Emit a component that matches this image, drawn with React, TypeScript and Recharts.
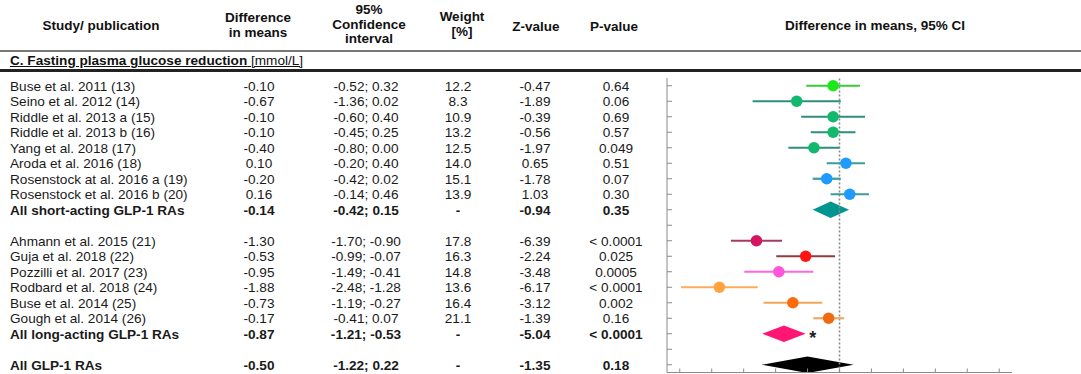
import {
  ScatterChart,
  Scatter,
  XAxis,
  YAxis,
  ErrorBar,
  ReferenceLine,
  ReferenceArea,
} from 'recharts';

// individual trials
const studyNames = [
  'Buse et al. 2011 (13)',
  'Seino et al. 2012 (14)',
  'Riddle et al. 2013 a (15)',
  'Riddle et al. 2013 b (16)',
  'Yang et al. 2018 (17)',
  'Aroda et al. 2016 (18)',
  'Rosenstock at al. 2016 a (19)',
  'Rosenstock et al. 2016 b (20)',
  'Ahmann et al. 2015 (21)',
  'Guja et al. 2018 (22)',
  'Pozzilli et al. 2017 (23)',
  'Rodbard et al. 2018 (24)',
  'Buse et al. 2014 (25)',
  'Gough et al. 2014 (26)',
];
const studyDiff = [-0.1, -0.67, -0.1, -0.1, -0.4, 0.1, -0.2, 0.16, -1.3, -0.53, -0.95, -1.88, -0.73, -0.17];
const studyLow = [-0.52, -1.36, -0.6, -0.45, -0.8, -0.2, -0.42, -0.14, -1.7, -0.99, -1.49, -2.48, -1.19, -0.41];
const studyHigh = [0.32, 0.02, 0.4, 0.25, 0.0, 0.4, 0.02, 0.46, -0.9, -0.07, -0.41, -1.28, -0.27, 0.07];
const studyWeight = [12.2, 8.3, 10.9, 13.2, 12.5, 14.0, 15.1, 13.9, 17.8, 16.3, 14.8, 13.6, 16.4, 21.1];
const studyZ = [-0.47, -1.89, -0.39, -0.56, -1.97, 0.65, -1.78, 1.03, -6.39, -2.24, -3.48, -6.17, -3.12, -1.39];
const studyP = ['0.64', '0.06', '0.69', '0.57', '0.049', '0.51', '0.07', '0.30', '< 0.0001', '0.025', '0.0005', '< 0.0001', '0.002', '0.16'];
const studyRow = [0, 1, 2, 3, 4, 5, 6, 7, 10, 11, 12, 13, 14, 15];

// pooled estimates
const pooledNames = ['All short-acting GLP-1 RAs', 'All long-acting GLP-1 RAs', 'All GLP-1 RAs'];
const pooledDiff = [-0.14, -0.87, -0.5];
const pooledLow = [-0.42, -1.21, -1.22];
const pooledHigh = [0.15, -0.53, 0.22];
const pooledZ = [-0.94, -5.04, -1.35];
const pooledP = ['0.35', '< 0.0001', '0.18'];
const pooledRow = [8, 16, 18];
const pooledStar = [false, true, false];

const rowTicks = Array.from({ length: 19 }, (_, i) => i);
const xTicks = [-2.5, -2, -1.5, -1, -0.5, 0, 0.5, 1, 1.5, 2, 2.5];

const dotColors = [
  '#1de81d', '#12b86c', '#12b86c', '#12b86c', '#12b86c', '#1e9bff', '#1e9bff', '#1e9bff',
  '#d6145f', '#ff1414', '#ff55dd', '#ffa340', '#ff6a0a', '#f06a12',
];
const lineColors = [
  '#33cc33', '#2c8f7e', '#2c8f7e', '#2c8f7e', '#2c8f7e', '#3b9c9c', '#3b9c9c', '#3b9c9c',
  '#a63a60', '#8f3c3c', '#ff66dd', '#ffab5c', '#f2a65a', '#eda868',
];
const pooledColors = ['#00968f', '#ff1675', '#000000'];

const FONT = '"Liberation Sans", Arial, sans-serif';
const TEXT = '#1a1a1a';

type RowText = { name: string; diff: string; ci: string; weight: string; z: string; p: string; bold: boolean };
const rowText: Record<number, RowText> = {};
studyNames.forEach((name, i) => {
  rowText[studyRow[i]] = {
    name,
    diff: studyDiff[i].toFixed(2),
    ci: `${studyLow[i].toFixed(2)}; ${studyHigh[i].toFixed(2)}`,
    weight: studyWeight[i].toFixed(1),
    z: studyZ[i].toFixed(2),
    p: studyP[i],
    bold: false,
  };
});
pooledNames.forEach((name, i) => {
  rowText[pooledRow[i]] = {
    name,
    diff: pooledDiff[i].toFixed(2),
    ci: `${pooledLow[i].toFixed(2)}; ${pooledHigh[i].toFixed(2)}`,
    weight: '-',
    z: pooledZ[i].toFixed(2),
    p: pooledP[i],
    bold: true,
  };
});

// table columns are drawn as the y-axis tick labels so they stay on the row grid
function RowTick({ y, payload }: any) {
  const r = rowText[payload.value];
  if (!r) return <g />;
  const common = { y, dy: '0.36em', fontFamily: FONT, fontSize: 13.6, fill: TEXT, fontWeight: r.bold ? 700 : 400 };
  return (
    <g>
      <text x={10} textAnchor="start" {...common}>{r.name}</text>
      <text x={259} textAnchor="middle" {...common}>{r.diff}</text>
      <text x={366} textAnchor="middle" {...common}>{r.ci}</text>
      <text x={458} textAnchor="middle" {...common}>{r.weight}</text>
      <text x={535} textAnchor="middle" {...common}>{r.z}</text>
      <text x={616} textAnchor="middle" {...common}>{r.p}</text>
    </g>
  );
}

function diamond(lo: number, est: number, hi: number, color: string, star: boolean) {
  return (props: any) => {
    const { x, y, width, height } = props;
    const ax = x + ((est - lo) / (hi - lo)) * width;
    const my = y + height / 2;
    return (
      <g>
        <polygon points={`${x},${my} ${ax},${y} ${x + width},${my} ${ax},${y + height}`} fill={color} />
        {star && (
          <text x={x + width + 7} y={my} dy="0.55em" textAnchor="middle" fontFamily={FONT} fontSize={18} fontWeight={700} fill="#222">
            *
          </text>
        )}
      </g>
    );
  };
}

function Header({ cx, top, lines, width = 200 }: { cx: number; top: number; lines: string[]; width?: number }) {
  return (
    <div
      style={{
        position: 'absolute',
        left: cx - width / 2,
        width,
        top,
        textAlign: 'center',
        fontWeight: 700,
        fontSize: 13.5,
        lineHeight: '14.5px',
        color: '#111',
      }}
    >
      {lines.map((l) => (
        <div key={l}>{l}</div>
      ))}
    </div>
  );
}

const EmptyTick = () => <g />;

export default function App() {
  return (
    <div
      style={{
        position: 'fixed',
        left: 0,
        top: 0,
        width: 1081,
        height: 374,
        overflow: 'hidden',
        background: '#fff',
        fontFamily: FONT,
      }}
    >
      <Header cx={101} top={19} lines={['Study/ publication']} />
      <Header cx={258} top={11} lines={['Difference', 'in means']} />
      <Header cx={369} top={3} lines={['95%', 'Confidence', 'interval']} />
      <Header cx={462} top={10} lines={['Weight', '[%]']} />
      <Header cx={536} top={20} lines={['Z-value']} />
      <Header cx={614} top={20} lines={['P-value']} />
      <Header cx={875} top={19} lines={['Difference in means, 95% CI']} width={300} />

      <div style={{ position: 'absolute', left: 0, top: 50, width: 1081, height: 2, background: '#777' }} />
      <div
        style={{
          position: 'absolute',
          left: 10,
          top: 54,
          fontSize: 13.6,
          lineHeight: '14px',
          color: '#111',
          textDecoration: 'underline',
          whiteSpace: 'nowrap',
        }}
      >
        <span style={{ fontWeight: 700 }}>C. Fasting plasma glucose reduction</span> [mmol/L]
      </div>
      <div style={{ position: 'absolute', left: 0, top: 69, width: 1081, height: 3, background: '#222' }} />

      <div style={{ position: 'absolute', left: 0, top: 0 }}>
        <ScatterChart width={1081} height={374} margin={{ top: 78, right: 69, bottom: 0, left: 0 }}>
          <XAxis
            type="number"
            dataKey="x"
            domain={[-2.7, 2.7]}
            ticks={xTicks}
            height={1.5}
            stroke="#8a8a8a"
            tickSize={-4}
            tick={<EmptyTick />}
            allowDataOverflow
          />
          <YAxis
            type="number"
            dataKey="y"
            domain={[-0.5, 18.5]}
            ticks={rowTicks}
            interval={0}
            reversed
            width={667}
            tickSize={-5}
            stroke="#8a8a8a"
            tick={<RowTick />}
            allowDataOverflow
          />
          <ReferenceLine x={0} stroke="#8a8a8a" strokeDasharray="2 2" strokeWidth={1.6} />
          {studyNames.map((name, i) => (
            <Scatter
              key={name}
              name={name}
              data={[{ x: studyDiff[i], y: studyRow[i], err: [studyDiff[i] - studyLow[i], studyHigh[i] - studyDiff[i]] }]}
              isAnimationActive={false}
              shape={(p: any) => <circle cx={p.cx} cy={p.cy} r={5.8} fill={dotColors[i]} />}
            >
              <ErrorBar dataKey="err" direction="x" width={0} stroke={lineColors[i]} strokeWidth={2.2} isAnimationActive={false} />
            </Scatter>
          ))}
          {pooledNames.map((name, i) => (
            <ReferenceArea
              key={name}
              x1={pooledLow[i]}
              x2={pooledHigh[i]}
              y1={pooledRow[i] - 0.53}
              y2={pooledRow[i] + 0.53}
              ifOverflow="visible"
              shape={diamond(pooledLow[i], pooledDiff[i], pooledHigh[i], pooledColors[i], pooledStar[i])}
            />
          ))}
        </ScatterChart>
      </div>
    </div>
  );
}
